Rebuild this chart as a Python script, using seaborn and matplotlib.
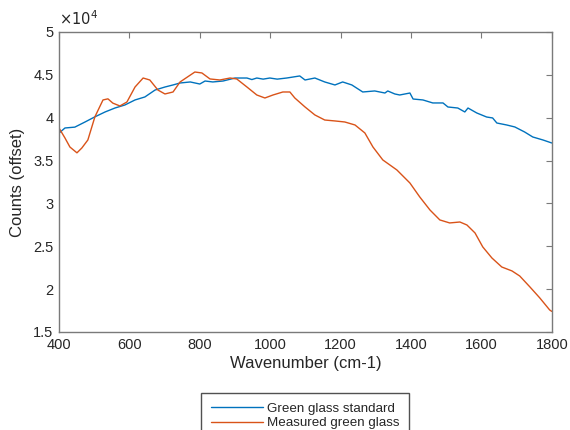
import numpy as np
import pandas as pd
import matplotlib
matplotlib.use("Agg")
import matplotlib.pyplot as plt
from matplotlib.ticker import FuncFormatter, MultipleLocator
import seaborn as sns

# Green glass standard spectrum
std_wavenumber = [400, 417, 445, 474, 502, 531, 559, 587, 616, 644, 673, 701, 724,
                  744, 773, 800, 815, 837, 866, 900, 934, 948, 962, 980, 999, 1020,
                  1047, 1084, 1099, 1127, 1155, 1184, 1206, 1232, 1263, 1297, 1326,
                  1334, 1354, 1368, 1397, 1406, 1434, 1462, 1491, 1505, 1533, 1553,
                  1562, 1587, 1615, 1632, 1644, 1672, 1695, 1723, 1746, 1775, 1800]
std_counts = [38200, 38800, 38900, 39500, 40100, 40670, 41130, 41480, 42070, 42420,
              43230, 43580, 43820, 44050, 44170, 43930, 44280, 44170, 44280, 44630,
              44630, 44450, 44630, 44500, 44630, 44500, 44630, 44870, 44400, 44630,
              44170, 43820, 44170, 43820, 43000, 43120, 42880, 43120, 42770, 42650,
              42880, 42180, 42070, 41720, 41720, 41250, 41130, 40670, 41130, 40550,
              40080, 39970, 39380, 39150, 38920, 38330, 37750, 37400, 37050]

# Measured green glass spectrum
meas_wavenumber = [400, 417, 431, 451, 465, 482, 502, 525, 539, 553, 573, 593, 616,
                   639, 658, 681, 701, 724, 744, 786, 806, 829, 857, 886, 905, 934,
                   962, 985, 1008, 1036, 1056, 1070, 1099, 1127, 1155, 1184, 1212,
                   1241, 1269, 1292, 1320, 1360, 1397, 1425, 1454, 1482, 1510, 1539,
                   1559, 1582, 1604, 1630, 1658, 1687, 1709, 1738, 1766, 1794, 1800]
meas_counts = [38800, 37630, 36580, 35900, 36470, 37400, 40100, 42070, 42200, 41700,
               41370, 41830, 43580, 44630, 44400, 43230, 42770, 43000, 44170, 45330,
               45220, 44520, 44400, 44630, 44520, 43580, 42650, 42300, 42650, 43000,
               43000, 42300, 41250, 40320, 39730, 39620, 39500, 39150, 38220, 36580,
               35070, 33900, 32380, 30750, 29230, 28070, 27720, 27830, 27480, 26550,
               24920, 23630, 22580, 22120, 21530, 20250, 18970, 17570, 17400]

labels = ["Green glass standard", "Measured green glass"]
colors = ["#0072BD", "#D95319"]

df = pd.concat([
    pd.DataFrame({"Wavenumber": std_wavenumber, "Counts": std_counts, "Series": labels[0]}),
    pd.DataFrame({"Wavenumber": meas_wavenumber, "Counts": meas_counts, "Series": labels[1]}),
], ignore_index=True)

sns.set_style("white")
plt.rcParams["font.family"] = ["Liberation Sans", "DejaVu Sans"]

fig = plt.figure(figsize=(5.7, 4.3), dpi=100)
ax = fig.add_axes([0.1035, 0.228, 0.8645, 0.6976])

sns.lineplot(data=df, x="Wavenumber", y="Counts", hue="Series",
             palette=dict(zip(labels, colors)), linewidth=1.0, ax=ax,
             sort=False, legend=False)

ax.set_xlim(400, 1800)
ax.set_ylim(15000, 50000)
ax.xaxis.set_major_locator(MultipleLocator(200))
ax.yaxis.set_major_locator(MultipleLocator(5000))
ax.yaxis.set_major_formatter(FuncFormatter(lambda v, p: f"{v / 1e4:g}"))

spine_color = "#7a7a7a"
for s in ax.spines.values():
    s.set_color(spine_color)
    s.set_linewidth(1.0)
ax.tick_params(direction="in", length=4, width=0.8, color=spine_color,
               top=True, right=True, labelsize=10.5, labelcolor="#262626", pad=4)

ax.set_xlabel("Wavenumber (cm-1)", fontsize=12, color="#262626", labelpad=3)
ax.set_ylabel("Counts (offset)", fontsize=12, color="#262626", labelpad=6)

ax.text(0.0, 1.012, r"$\times10^{4}$", transform=ax.transAxes, fontsize=10.5,
        color="#262626", ha="left", va="bottom")

handles = [plt.Line2D([], [], color=c, lw=1.0) for c in colors]
fig.legend(handles, labels, loc="upper center", bbox_to_anchor=(305 / 570, 1 - 393 / 430),
           fontsize=9.6, frameon=True, fancybox=False, edgecolor="#262626",
           handlelength=3.9, handletextpad=0.3, labelspacing=0.18, borderpad=0.7,
           borderaxespad=0)
leg = fig.legends[0]
leg._legend_box.sep = 0

fig.savefig("out.png", dpi=100)
